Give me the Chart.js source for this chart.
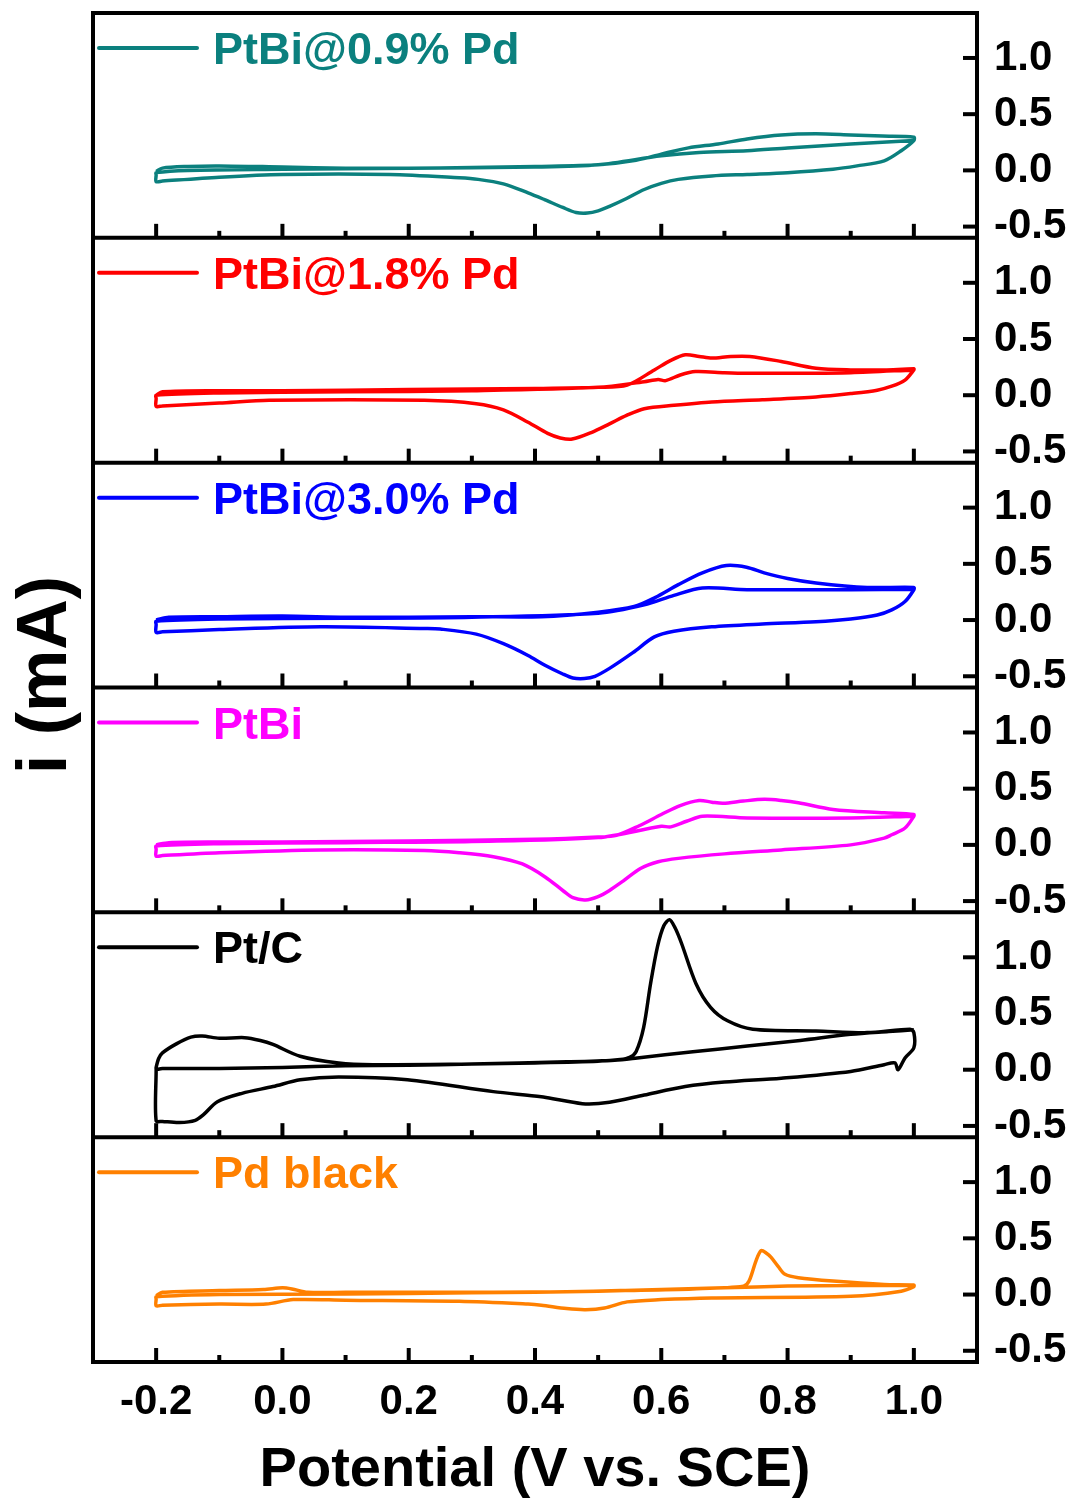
<!DOCTYPE html>
<html>
<head>
<meta charset="utf-8">
<title>CO stripping voltammograms</title>
<script src="https://cdn.jsdelivr.net/npm/chart.js@4.4.0/dist/chart.umd.min.js"></script>
<style>
  html, body { margin: 0; padding: 0; background: #fff; }
</style>
</head>
<body>
<canvas id="cvChart" width="1077" height="1506"></canvas>
<script>
// sample names and line colours, top panel first
const samples = ['PtBi@0.9% Pd', 'PtBi@1.8% Pd', 'PtBi@3.0% Pd', 'PtBi', 'Pt/C', 'Pd black'];
const colors = ['#0b807e', '#ff0000', '#0000ff', '#ff00ff', '#000000', '#ff8000'];

const xTicks = [-0.2, 0.0, 0.2, 0.4, 0.6, 0.8, 1.0];
const xMinorTicks = [-0.1, 0.1, 0.3, 0.5, 0.7, 0.9];
const yTicks = [-0.5, 0.0, 0.5, 1.0];

// [potential (V vs. SCE), current (mA)]
// scan1 = first anodic sweep, reverse = cathodic sweep, scan2 = second anodic sweep
const pd09Scan1 = [[-0.2,-0.01],[-0.19,0.02],[-0.15,0.035],[-0.1,0.04],[0.0,0.03],[0.1,0.02],[0.2,0.02],[0.3,0.025],[0.4,0.035],[0.5,0.05],[0.56,0.09],[0.6,0.145],[0.643,0.2],[0.69,0.235],[0.736,0.28],[0.79,0.315],[0.845,0.325],[0.9,0.315],[0.95,0.305],[1.0,0.295]];
const pd09Reverse = [[1.0,0.265],[0.98,0.175],[0.953,0.085],[0.91,0.04],[0.872,0.01],[0.8,-0.02],[0.736,-0.036],[0.68,-0.05],[0.627,-0.08],[0.6,-0.115],[0.573,-0.17],[0.545,-0.25],[0.518,-0.32],[0.5,-0.36],[0.483,-0.38],[0.465,-0.375],[0.444,-0.33],[0.415,-0.26],[0.389,-0.2],[0.35,-0.12],[0.31,-0.08],[0.28,-0.066],[0.17,-0.036],[0.0,-0.036],[-0.1,-0.06],[-0.19,-0.095],[-0.2,-0.1],[-0.2,-0.04]];
const pd09Scan2 = [[-0.2,-0.02],[-0.15,0.0],[0.0,0.01],[0.2,0.02],[0.4,0.03],[0.5,0.05],[0.6,0.13],[0.66,0.16],[0.736,0.175],[0.8,0.2],[0.9,0.235],[1.0,0.265]];

const pd18Scan1 = [[-0.2,0.0],[-0.19,0.03],[-0.1,0.04],[0.0,0.04],[0.2,0.05],[0.4,0.06],[0.5,0.07],[0.546,0.09],[0.589,0.225],[0.615,0.31],[0.638,0.36],[0.66,0.345],[0.68,0.33],[0.71,0.345],[0.74,0.345],[0.79,0.3],[0.845,0.24],[0.9,0.225],[0.953,0.225],[1.0,0.235]];
const pd18Reverse = [[1.0,0.225],[0.986,0.135],[0.965,0.08],[0.942,0.045],[0.9,0.015],[0.845,-0.015],[0.76,-0.04],[0.68,-0.06],[0.62,-0.09],[0.573,-0.12],[0.545,-0.18],[0.518,-0.255],[0.49,-0.33],[0.459,-0.39],[0.44,-0.38],[0.42,-0.34],[0.389,-0.24],[0.35,-0.13],[0.307,-0.075],[0.225,-0.045],[-0.021,-0.045],[-0.1,-0.07],[-0.19,-0.095],[-0.2,-0.1],[-0.2,-0.03]];
const pd18Scan2 = [[-0.2,0.0],[-0.1,0.02],[0.1,0.03],[0.3,0.04],[0.5,0.07],[0.573,0.12],[0.595,0.14],[0.607,0.13],[0.63,0.18],[0.654,0.21],[0.7,0.2],[0.736,0.195],[0.8,0.195],[0.9,0.2],[1.0,0.225]];

const pd30Scan1 = [[-0.2,0.0],[-0.18,0.025],[-0.1,0.03],[0.0,0.035],[0.1,0.025],[0.2,0.025],[0.3,0.03],[0.41,0.03],[0.5,0.07],[0.557,0.12],[0.59,0.2],[0.627,0.315],[0.665,0.42],[0.703,0.485],[0.735,0.47],[0.763,0.42],[0.8,0.37],[0.845,0.33],[0.926,0.29],[1.0,0.29]];
const pd30Reverse = [[1.0,0.27],[0.986,0.165],[0.965,0.09],[0.942,0.045],[0.9,0.01],[0.845,-0.015],[0.76,-0.035],[0.68,-0.06],[0.62,-0.1],[0.589,-0.15],[0.555,-0.29],[0.518,-0.43],[0.495,-0.5],[0.478,-0.52],[0.46,-0.515],[0.444,-0.48],[0.415,-0.4],[0.389,-0.315],[0.35,-0.21],[0.307,-0.125],[0.25,-0.08],[0.225,-0.075],[0.061,-0.06],[-0.1,-0.085],[-0.19,-0.105],[-0.2,-0.11],[-0.2,-0.04]];
const pd30Scan2 = [[-0.2,-0.01],[-0.1,0.01],[0.1,0.015],[0.3,0.025],[0.5,0.06],[0.573,0.135],[0.62,0.22],[0.665,0.285],[0.736,0.27],[0.9,0.27],[1.0,0.275]];

const ptbiScan1 = [[-0.2,0.0],[-0.18,0.02],[-0.1,0.025],[0.0,0.025],[0.2,0.035],[0.4,0.05],[0.5,0.07],[0.529,0.085],[0.565,0.17],[0.6,0.27],[0.63,0.35],[0.66,0.395],[0.68,0.38],[0.698,0.37],[0.73,0.39],[0.763,0.405],[0.79,0.395],[0.817,0.375],[0.872,0.315],[0.953,0.285],[1.0,0.27]];
const ptbiReverse = [[1.0,0.255],[0.986,0.15],[0.965,0.09],[0.953,0.06],[0.9,0.0],[0.79,-0.045],[0.7,-0.08],[0.627,-0.12],[0.595,-0.15],[0.567,-0.21],[0.54,-0.32],[0.518,-0.405],[0.5,-0.46],[0.48,-0.49],[0.46,-0.47],[0.445,-0.41],[0.416,-0.285],[0.38,-0.17],[0.334,-0.105],[0.28,-0.07],[0.225,-0.05],[0.061,-0.045],[-0.1,-0.07],[-0.19,-0.095],[-0.2,-0.1],[-0.2,-0.04]];
const ptbiScan2 = [[-0.2,-0.01],[-0.1,0.01],[0.1,0.02],[0.3,0.03],[0.5,0.065],[0.6,0.165],[0.615,0.16],[0.64,0.21],[0.665,0.255],[0.736,0.24],[0.9,0.24],[1.0,0.255]];

const ptcScan1 = [[-0.2,0.0],[-0.19,0.01],[-0.1,0.01],[0.0,0.02],[0.1,0.035],[0.2,0.04],[0.3,0.05],[0.4,0.06],[0.5,0.075],[0.535,0.09],[0.55,0.11],[0.56,0.16],[0.572,0.375],[0.583,0.765],[0.594,1.095],[0.604,1.28],[0.613,1.335],[0.622,1.26],[0.632,1.125],[0.655,0.765],[0.678,0.555],[0.705,0.435],[0.745,0.36],[0.845,0.345],[0.926,0.33],[0.994,0.36]];
const ptcReverse = [[1.0,0.33],[1.0,0.195],[0.986,0.105],[0.975,0.0],[0.97,0.06],[0.953,0.045],[0.9,-0.015],[0.79,-0.075],[0.7,-0.11],[0.638,-0.15],[0.573,-0.225],[0.518,-0.29],[0.48,-0.305],[0.44,-0.27],[0.41,-0.24],[0.334,-0.195],[0.198,-0.09],[0.089,-0.065],[0.028,-0.09],[-0.015,-0.15],[-0.064,-0.21],[-0.103,-0.285],[-0.125,-0.4],[-0.138,-0.45],[-0.163,-0.47],[-0.19,-0.46],[-0.2,-0.455],[-0.2,0.0]];
const ptcScan2 = [[-0.2,0.02],[-0.196,0.1],[-0.19,0.15],[-0.168,0.23],[-0.145,0.29],[-0.127,0.3],[-0.1,0.28],[-0.06,0.285],[-0.035,0.26],[-0.015,0.225],[0.028,0.12],[0.089,0.06],[0.143,0.045],[0.3,0.05],[0.45,0.07],[0.526,0.085],[0.562,0.105],[0.65,0.16],[0.736,0.21],[0.82,0.26],[0.9,0.315],[0.96,0.34],[1.0,0.355]];

const pdScan1 = [[-0.2,-0.01],[-0.19,0.02],[-0.1,0.035],[-0.03,0.045],[0.0,0.06],[0.015,0.05],[0.04,0.02],[0.1,0.02],[0.2,0.02],[0.334,0.02],[0.45,0.025],[0.535,0.035],[0.65,0.05],[0.73,0.075],[0.739,0.12],[0.75,0.3],[0.758,0.39],[0.766,0.37],[0.774,0.33],[0.785,0.25],[0.796,0.18],[0.817,0.15],[0.872,0.12],[0.953,0.09],[1.0,0.085]];
const pdReverse = [[1.0,0.07],[0.98,0.03],[0.9,-0.015],[0.68,-0.03],[0.6,-0.045],[0.546,-0.065],[0.51,-0.12],[0.48,-0.135],[0.45,-0.125],[0.41,-0.095],[0.389,-0.085],[0.28,-0.06],[0.1,-0.05],[0.017,-0.045],[-0.026,-0.085],[-0.1,-0.085],[-0.19,-0.095],[-0.2,-0.1],[-0.2,-0.04]];
const pdScan2 = [[-0.2,-0.02],[-0.1,0.0],[0.1,0.005],[0.3,0.015],[0.5,0.03],[0.7,0.06],[0.8,0.075],[0.9,0.08],[1.0,0.08]];

const sweeps = [
  [pd09Scan1, pd09Reverse, pd09Scan2],
  [pd18Scan1, pd18Reverse, pd18Scan2],
  [pd30Scan1, pd30Reverse, pd30Scan2],
  [ptbiScan1, ptbiReverse, ptbiScan2],
  [ptcScan1, ptcReverse, ptcScan2],
  [pdScan1, pdReverse, pdScan2]
];

const FONT = "'Liberation Sans', Arial, sans-serif";
Chart.defaults.font.family = FONT;
Chart.defaults.color = '#000';

const datasets = samples.map((name, i) => ({
  label: name,
  data: [].concat(...sweeps[i]).map(p => ({ x: p[0], y: p[1] })),
  borderColor: colors[i],
  borderWidth: 3.5,
  pointRadius: 0,
  showLine: true,
  fill: false,
  tension: 0.3,
  yAxisID: 'y' + i
}));

const scales = {
  x: {
    type: 'linear',
    position: 'bottom',
    min: -0.3,
    max: 1.1,
    afterBuildTicks: axis => { axis.ticks = xTicks.map(v => ({ value: v })); },
    afterFit: axis => {
      axis.height = 144;
      axis.paddingLeft = 0;
      axis.paddingRight = 0;
    },
    grid: { display: false, drawTicks: false },
    border: { display: false },
    ticks: {
      font: { size: 42, weight: 'bold' },
      padding: 15,
      maxRotation: 0,
      callback: v => v.toFixed(1)
    },
    title: {
      display: true,
      text: 'Potential (V vs. SCE)',
      font: { size: 56, weight: 'bold', lineHeight: 1.2 },
      padding: { top: 0, bottom: 2 }
    }
  }
};

samples.forEach((name, i) => {
  scales['y' + i] = {
    type: 'linear',
    position: 'right',
    stack: 'cv',
    stackWeight: 1,
    min: -0.6,
    max: 1.4,
    afterBuildTicks: axis => { axis.ticks = yTicks.map(v => ({ value: v })); },
    afterFit: axis => {
      axis.width = 100;
      axis.paddingTop = 0;
      axis.paddingBottom = 0;
    },
    grid: { display: false, drawTicks: false },
    border: { display: false },
    ticks: {
      font: { size: 42, weight: 'bold' },
      padding: 17,
      autoSkip: false,
      callback: v => v.toFixed(1)
    }
  };
});

// frames, inward ticks, per-panel legend and the current axis title
const panelFrame = {
  id: 'panelFrame',
  afterDraw(chart) {
    const { ctx, chartArea: a } = chart;
    const x = chart.scales.x;
    const seg = (x1, y1, x2, y2) => {
      ctx.beginPath();
      ctx.moveTo(x1, y1);
      ctx.lineTo(x2, y2);
      ctx.stroke();
    };
    ctx.save();
    ctx.lineCap = 'butt';

    samples.forEach((name, i) => {
      const y = chart.scales['y' + i];
      ctx.strokeStyle = '#000';
      ctx.lineWidth = 4;
      if (i < samples.length - 1) seg(a.left, y.bottom, a.right, y.bottom);
      xTicks.forEach(v => {
        const px = x.getPixelForValue(v);
        seg(px, y.bottom, px, y.bottom - 14);
      });
      xMinorTicks.forEach(v => {
        const px = x.getPixelForValue(v);
        seg(px, y.bottom, px, y.bottom - 7);
      });
      yTicks.forEach(v => {
        const py = y.getPixelForValue(v);
        seg(a.right, py, a.right - 14, py);
      });

      const ds = chart.data.datasets[i];
      ctx.strokeStyle = ds.borderColor;
      ctx.lineWidth = 4;
      ctx.lineCap = 'round';
      seg(a.left + 6, y.top + 35, a.left + 104, y.top + 35);
      ctx.lineCap = 'butt';
      ctx.fillStyle = ds.borderColor;
      ctx.font = 'bold 45px ' + FONT;
      ctx.textAlign = 'left';
      ctx.textBaseline = 'alphabetic';
      ctx.fillText(ds.label, a.left + 120, y.top + 51);
    });

    ctx.strokeStyle = '#000';
    ctx.lineWidth = 4;
    ctx.strokeRect(a.left, a.top, a.right - a.left, a.bottom - a.top);

    ctx.translate(47, 675);
    ctx.rotate(-Math.PI / 2);
    ctx.fillStyle = '#000';
    ctx.font = 'bold 70px ' + FONT;
    ctx.textAlign = 'center';
    ctx.textBaseline = 'middle';
    ctx.fillText('i (mA)', 0, 0);
    ctx.restore();
  }
};

new Chart(document.getElementById('cvChart'), {
  type: 'scatter',
  data: { datasets: datasets },
  options: {
    responsive: false,
    animation: false,
    layout: { padding: { left: 93, top: 13, right: 0, bottom: 0 } },
    plugins: {
      legend: { display: false },
      tooltip: { enabled: false }
    },
    scales: scales
  },
  plugins: [panelFrame]
});
</script>
</body>
</html>
